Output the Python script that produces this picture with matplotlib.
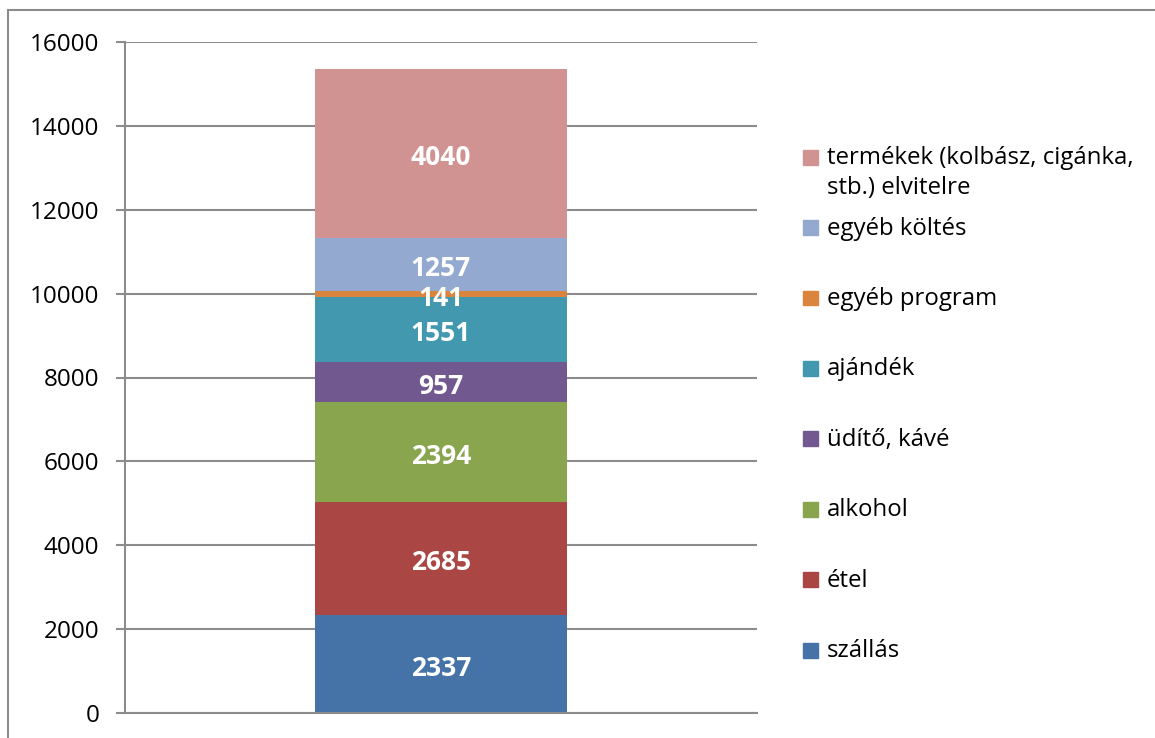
import matplotlib.pyplot as plt
from matplotlib.patches import Rectangle

categories = ['szállás', 'étel', 'alkohol', 'üdítő, kávé', 'ajándék',
              'egyéb program', 'egyéb költés',
              'termékek (kolbász, cigánka,\nstb.) elvitelre']
values = [2337, 2685, 2394, 957, 1551, 141, 1257, 4040]
colors = ['#4572A7', '#AA4643', '#89A54E', '#71588F', '#4198AF',
          '#DB843D', '#93A9CF', '#D19392']
yticks = list(range(0, 16001, 2000))

plt.rcParams['font.family'] = ['Open Sans', 'DejaVu Sans']
W, H = 1155, 738
fig = plt.figure(figsize=(W / 100, H / 100), dpi=100)
ax = fig.add_axes([125 / W, 1 - 713 / H, 632 / W, 671 / H])

grey = '#8c8c8c'
bottom = 0
for cat, v, c in zip(categories, values, colors):
    ax.bar(0, v, bottom=bottom, width=0.399, color=c, zorder=2)
    ax.annotate(str(v), (0, bottom + v / 2), xytext=(0, -3),
                textcoords='offset points', ha='center', va='center',
                color='white', fontsize=19, fontweight='bold', zorder=3)
    bottom += v

ax.set_xlim(-0.5, 0.5)
ax.set_ylim(0, 16000)
ax.set_yticks(yticks)
ax.set_yticklabels([str(t) for t in yticks], fontsize=17.5)
ax.set_xticks([])
ax.yaxis.grid(True, color=grey, linewidth=1.5, zorder=0)
ax.tick_params(axis='y', length=6.5, width=1.5, color=grey, pad=12)
for s in ['top', 'right']:
    ax.spines[s].set_visible(False)
for s in ['left', 'bottom']:
    ax.spines[s].set_color(grey)
    ax.spines[s].set_linewidth(1.5)

# legend drawn by hand, evenly spaced like the original
for i, (cat, c) in enumerate(zip(categories, colors)):
    yc = 650 - i * 70.4
    fig.patches.append(Rectangle((803 / W, 1 - (yc + 7.5) / H), 15 / W, 15 / H,
                                 color=c, transform=fig.transFigure))
    fig.text(827 / W, 1 - (yc - 11) / H, cat, ha='left', va='top',
             fontsize=17.3, linespacing=1.3)

# outer chart frame
fig.patches.append(Rectangle((8 / W, -0.1), 1.2, 1 - 10 / H + 0.1, fill=False,
                             edgecolor=grey, linewidth=1.5,
                             transform=fig.transFigure))

fig.savefig('out.png', dpi=100)
